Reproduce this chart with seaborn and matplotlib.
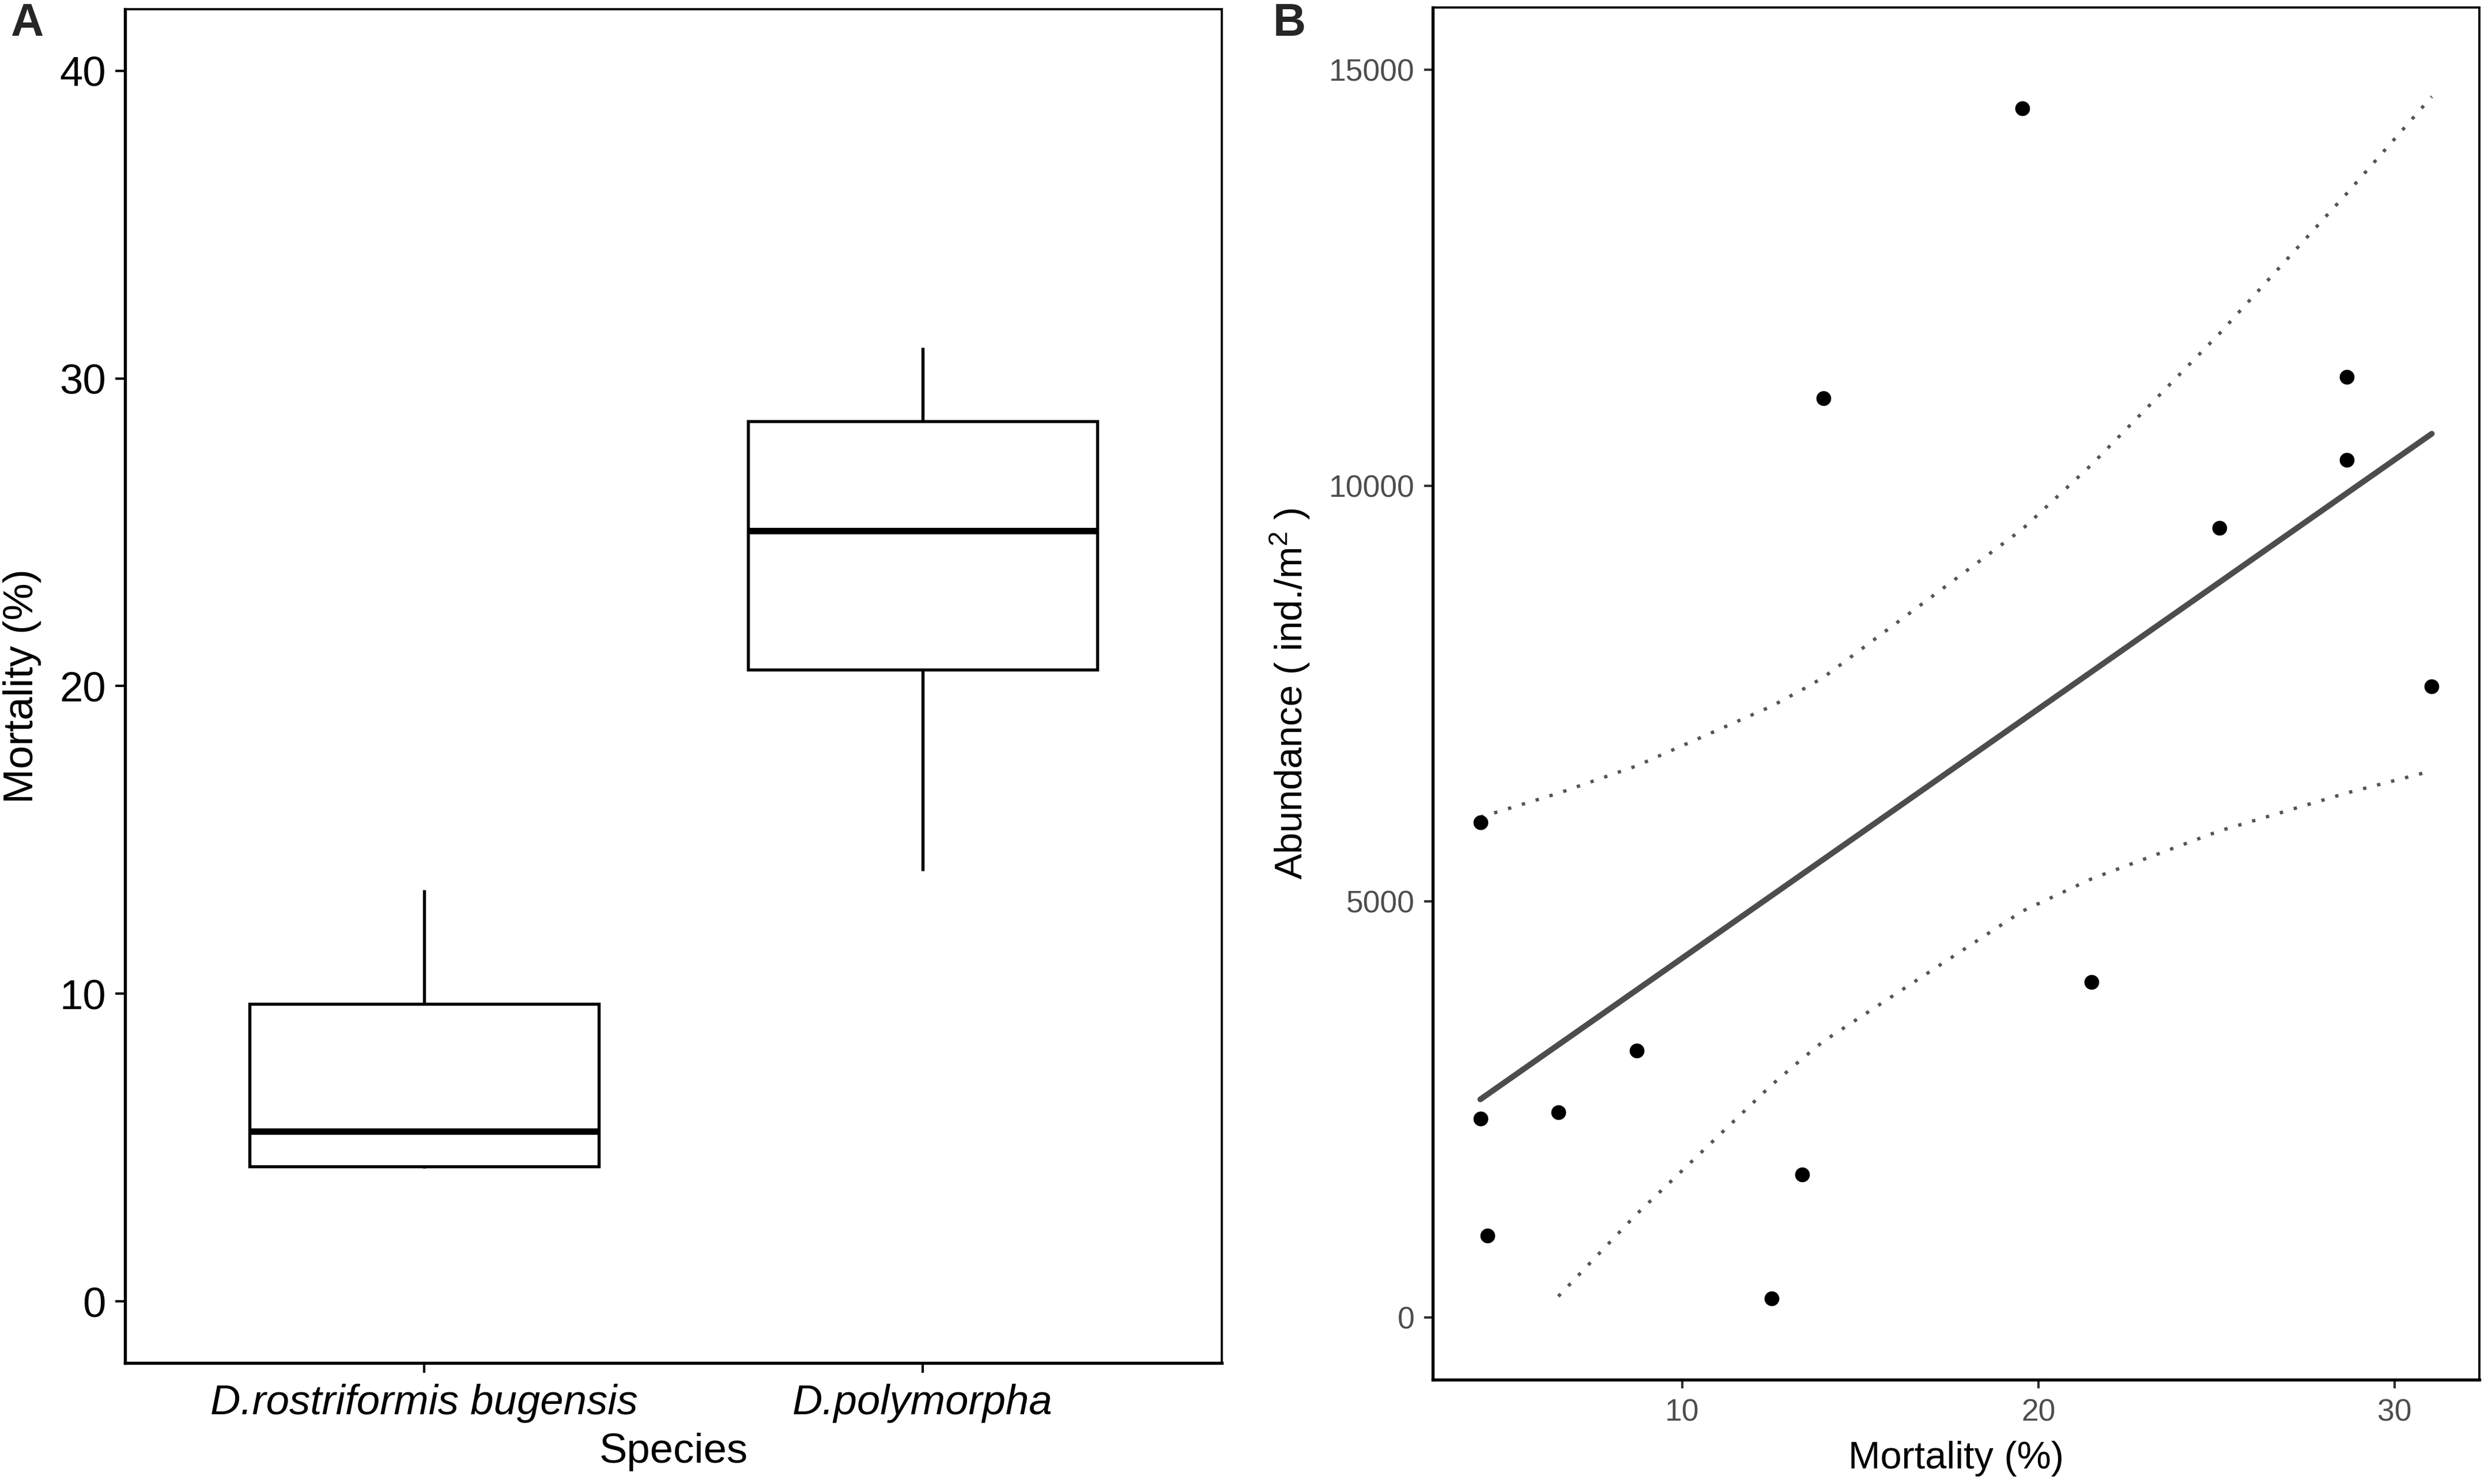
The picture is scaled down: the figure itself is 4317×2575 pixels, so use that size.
import numpy as np
import pandas as pd
import matplotlib
matplotlib.use("Agg")
import matplotlib.pyplot as plt
import seaborn as sns

# ---------------- data ----------------
# Panel A: mortality per species (box plot)
species_order = ["D.rostriformis bugensis", "D.polymorpha"]
mortality_bugensis = [4.33, 4.33, 4.40, 4.53, 6.52, 8.72, 12.51, 13.37]
mortality_polymorpha = [14.0, 19.55, 21.5, 25.05, 28.6, 28.6, 31.0]

# Panel B: mortality vs abundance (scatter + linear fit)
mortality_b = [19.55, 13.96, 28.66, 28.66, 25.09, 31.05, 4.33,
               21.50, 8.72, 6.52, 4.33, 13.37, 4.53, 12.51]
abundance_b = [14540, 11055, 11310, 10310, 9490, 7585, 5950,
               4035, 3210, 2465, 2390, 1720, 980, 225]

a_yticks = [0, 10, 20, 30, 40]
b_xticks = [10, 20, 30]
b_yticks = [0, 5000, 10000, 15000]
b_ylimits = (0, 15000)

# ---------------- style ----------------
sns.set_style("ticks")
plt.rcParams["font.family"] = ["Liberation Sans", "DejaVu Sans"]
plt.rcParams["mathtext.fontset"] = "custom"
plt.rcParams["mathtext.rm"] = "Liberation Sans"
plt.rcParams["mathtext.it"] = "Liberation Sans:italic"

W, H = 4317, 2575
DPI = 300
fig = plt.figure(figsize=(W / DPI, H / DPI), dpi=DPI)
fig.patch.set_facecolor("white")

def frac_box(l, t, r, b):
    return [l / W, 1 - b / H, (r - l) / W, (b - t) / H]

axA = fig.add_axes(frac_box(217, 16, 2120, 2365))
axB = fig.add_axes(frac_box(2486, 13, 4302, 2394))

# ---------------- panel A ----------------
dfA = pd.DataFrame({
    "Species": [species_order[0]] * len(mortality_bugensis) + [species_order[1]] * len(mortality_polymorpha),
    "Mortality": mortality_bugensis + mortality_polymorpha,
})
sns.boxplot(data=dfA, x="Species", y="Mortality", order=species_order,
            width=0.7, color="white", linecolor="black", linewidth=1.3,
            showcaps=False, fliersize=0, whis=1.5,
            medianprops={"linewidth": 2.7, "color": "black"}, ax=axA)
axA.set_xlim(-0.6, 1.6)
axA.set_ylim(-2, 42)
axA.set_yticks(a_yticks)
axA.set_yticklabels([str(v) for v in a_yticks])
axA.tick_params(axis="both", which="major", direction="out", length=4, width=1.0,
                color="black", labelsize=17.4, labelcolor="black",
                bottom=True, left=True, top=False, right=False)
axA.tick_params(axis="y", pad=4)
axA.tick_params(axis="x", pad=4.6)
for lbl in axA.get_xticklabels():
    lbl.set_fontstyle("italic")
axA.set_xlabel("Species", fontsize=17.4, color="black")
axA.set_ylabel("Mortality (%)", fontsize=17.4, color="black")
axA.xaxis.set_label_coords(0.5, -0.0515)
axA.yaxis.set_label_coords(-0.0762, 0.5)

# ---------------- panel B ----------------
xb = np.array(mortality_b, dtype=float)
yb = np.array(abundance_b, dtype=float)
n = len(xb)
slope, intercept = np.polyfit(xb, yb, 1)
resid = yb - (slope * xb + intercept)
s = np.sqrt(np.sum(resid ** 2) / (n - 2))
sxx = np.sum((xb - xb.mean()) ** 2)
tcrit = 2.1788128  # t(0.975, df = n - 2 = 12)
fit = slope * xb + intercept
half = tcrit * s * np.sqrt(1.0 / n + (xb - xb.mean()) ** 2 / sxx)
dfCI = pd.DataFrame({"x": xb, "upper": fit + half, "lower": fit - half})
# values outside the y-scale limits are removed (as in the original)
up = dfCI[(dfCI["upper"] >= b_ylimits[0]) & (dfCI["upper"] <= b_ylimits[1])]
lo = dfCI[(dfCI["lower"] >= b_ylimits[0]) & (dfCI["lower"] <= b_ylimits[1])]

dot_kw = dict(color="#555555", linewidth=1.4, dashes=False, errorbar=None, ax=axB)
sns.lineplot(data=up, x="x", y="upper", **dot_kw)
sns.lineplot(data=lo, x="x", y="lower", **dot_kw)
for ln in axB.get_lines():
    ln.set_linestyle((0, (1, 3.3)))

sns.regplot(x=xb, y=yb, scatter=False, ci=None, truncate=True,
            color="#4D4D4D", line_kws={"linewidth": 2.4}, ax=axB)
sns.scatterplot(x=xb, y=yb, color="black", s=38, linewidth=0, zorder=5, ax=axB)

rng = xb.max() - xb.min()
axB.set_xlim(xb.min() - 0.05 * rng, xb.max() + 0.05 * rng)
yr = b_ylimits[1] - b_ylimits[0]
axB.set_ylim(b_ylimits[0] - 0.05 * yr, b_ylimits[1] + 0.05 * yr)
axB.set_xticks(b_xticks)
axB.set_xticklabels([str(v) for v in b_xticks])
axB.set_yticks(b_yticks)
axB.set_yticklabels([str(v) for v in b_yticks])
axB.tick_params(axis="both", which="major", direction="out", length=3.6, width=1.0,
                color="#333333", labelsize=12.8, labelcolor="#4D4D4D",
                bottom=True, left=True, top=False, right=False)
axB.tick_params(axis="x", pad=4.3)
axB.tick_params(axis="y", pad=4)
axB.set_xlabel("Mortality (%)", fontsize=16, color="black")
axB.set_ylabel("Abundance ( ind./m$^{2}$ )", fontsize=16, color="black")
axB.xaxis.set_label_coords(0.5, -0.0445)
axB.yaxis.set_label_coords(-0.1156, 0.5)

# ---------------- frames ----------------
for ax in (axA, axB):
    for side in ("left", "bottom"):
        ax.spines[side].set_visible(True)
        ax.spines[side].set_color("black")
        ax.spines[side].set_linewidth(1.3)
    for side in ("top", "right"):
        ax.spines[side].set_visible(True)
        ax.spines[side].set_color("black")
        ax.spines[side].set_linewidth(0.9)
    ax.grid(False)
    ax.set_facecolor("white")

# panel letters
fig.text(18 / W, 1 - 4 / H, "A", fontsize=19, fontweight="bold", ha="left", va="top")
fig.text(2209 / W, 1 - 4 / H, "B", fontsize=19, fontweight="bold", ha="left", va="top")

fig.savefig("out.png", dpi=DPI, facecolor="white")
